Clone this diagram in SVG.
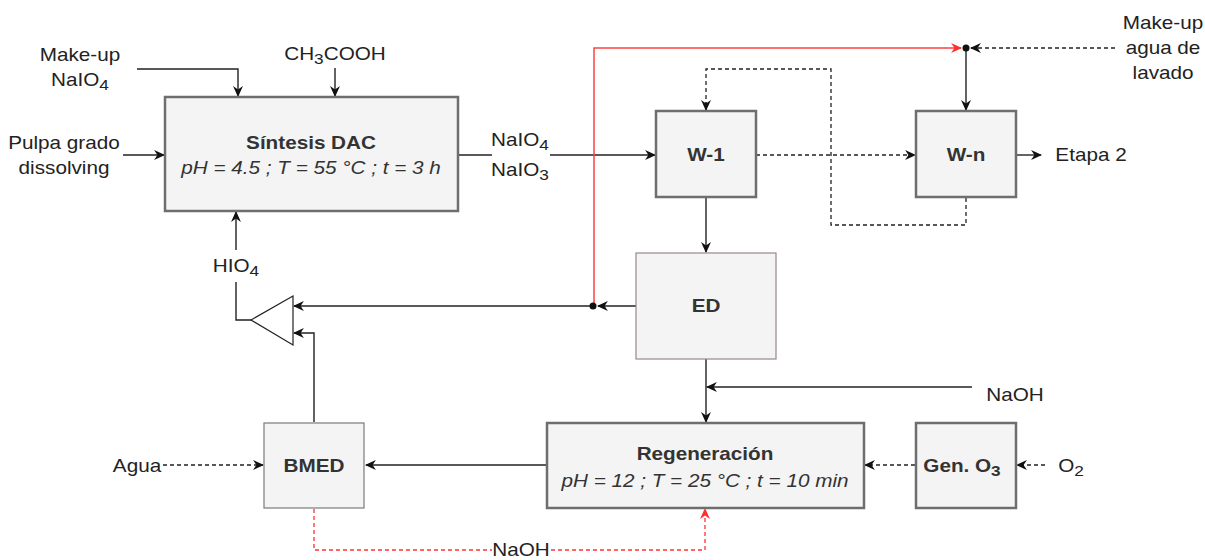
<svg xmlns="http://www.w3.org/2000/svg" width="1205" height="560" viewBox="0 0 1205 560">
<style>
text{font-family:"Liberation Sans",Arial,sans-serif;font-size:18px;fill:#222;text-anchor:middle}
.b{font-weight:bold;fill:#333}
.i{font-style:italic;fill:#333}
.s{font-size:15px}
.box{fill:#f4f4f4;stroke:#6e6e6e;stroke-width:2.5}
.thin{fill:#f4f4f4;stroke:#7a7a7a;stroke-width:1.2}
.c{fill:none;stroke:#222;stroke-width:1.4}
.d{fill:none;stroke:#222;stroke-width:1.3;stroke-dasharray:4 3}
.r{fill:none;stroke:#ff4040;stroke-width:1.5}
.rd{fill:none;stroke:#ff3030;stroke-width:1.3;stroke-dasharray:4 3}
</style>
<defs>
<marker id="a" viewBox="0 0 10 10" refX="9" refY="5" markerWidth="11" markerHeight="11" markerUnits="userSpaceOnUse" orient="auto">
<path d="M0,0.5 L10,5 L0,9.5 L3,5 z" fill="#111"/>
</marker>
<marker id="ar" viewBox="0 0 10 10" refX="9" refY="5" markerWidth="11" markerHeight="11" markerUnits="userSpaceOnUse" orient="auto">
<path d="M0,0.5 L10,5 L0,9.5 L3,5 z" fill="#ff3030"/>
</marker>
</defs>
<rect width="1205" height="560" fill="#fff"/>

<g id="connectors">
<path class="c" d="M137,69 H238 V96" marker-end="url(#a)"/>
<path class="c" d="M335,68 V96" marker-end="url(#a)"/>
<path class="c" d="M123,155 H164" marker-end="url(#a)"/>
<path class="c" d="M458,155 H492"/>
<path class="c" d="M550,155 H655" marker-end="url(#a)"/>
<path class="r" d="M594,306 V48 H961" marker-end="url(#ar)"/>
<path class="d" d="M1115,48 H971" marker-end="url(#a)"/>
<path class="c" d="M966,48 V110" marker-end="url(#a)"/>
<path class="d" d="M756,155 H915" marker-end="url(#a)"/>
<path class="c" d="M1016,155 H1041" marker-end="url(#a)"/>
<path class="d" d="M966,198 V225 H831 V69 H706 V110"/>
<path class="c" d="M706,102 V110" marker-end="url(#a)"/>
<path class="c" d="M706,198 V252" marker-end="url(#a)"/>
<path class="c" d="M636,306 H598" marker-end="url(#a)"/>
<path class="c" d="M594,306 H294" marker-end="url(#a)"/>
<path class="c" d="M251,320 H236 V282"/>
<path class="c" d="M236,250 V212" marker-end="url(#a)"/>
<path class="c" d="M314,422 V333 H294" marker-end="url(#a)"/>
<path class="c" d="M706,359 V422" marker-end="url(#a)"/>
<path class="c" d="M972,387 H707" marker-end="url(#a)"/>
<path class="d" d="M915,465 H865" marker-end="url(#a)"/>
<path class="d" d="M1045,465 H1017" marker-end="url(#a)"/>
<path class="c" d="M547,465 H366" marker-end="url(#a)"/>
<path class="d" d="M163,465 H263" marker-end="url(#a)"/>
<path class="rd" d="M314,509 V550 H492"/>
<path class="rd" d="M551,550 H705 V509" marker-end="url(#ar)"/>
<circle cx="966" cy="48" r="3.5" fill="#111"/>
<circle cx="593" cy="306" r="3.5" fill="#111"/>
<text transform="translate(236,272) scale(1.15,1)">HIO<tspan class="s" dy="4">4</tspan></text>
<text transform="translate(520,146) scale(1.15,1)">NaIO<tspan class="s" dy="4">4</tspan></text>
<text transform="translate(520,176) scale(1.15,1)">NaIO<tspan class="s" dy="4">3</tspan></text>
<text transform="translate(1015,401) scale(1.15,1)">NaOH</text>
<text transform="translate(521,556) scale(1.15,1)">NaOH</text>
</g>

<g id="inputs">
<text transform="translate(80,61) scale(1.15,1)">Make-up</text>
<text transform="translate(80,86) scale(1.15,1)">NaIO<tspan class="s" dy="4">4</tspan></text>
<text transform="translate(335,60) scale(1.15,1)">CH<tspan class="s" dy="4">3</tspan><tspan dy="-4">COOH</tspan></text>
<text transform="translate(64,149) scale(1.15,1)">Pulpa grado</text>
<text transform="translate(64,174) scale(1.15,1)">dissolving</text>
<text transform="translate(1163,29) scale(1.15,1)">Make-up</text>
<text transform="translate(1163,54) scale(1.15,1)">agua de</text>
<text transform="translate(1163,79) scale(1.15,1)">lavado</text>
<text transform="translate(1091,161) scale(1.15,1)">Etapa 2</text>
<text transform="translate(137,472) scale(1.15,1)">Agua</text>
<text transform="translate(1071,472) scale(1.15,1)">O<tspan class="s" dy="4">2</tspan></text>
</g>

<g id="sintesis">
<rect class="box" x="165" y="97" width="293" height="114"/>
<text class="b" transform="translate(311,149) scale(1.15,1)">Síntesis DAC</text>
<text class="i" transform="translate(311,174) scale(1.15,1)">pH = 4.5 ; T = 55 °C ; t = 3 h</text>
</g>

<g id="w1">
<rect class="box" x="656" y="111" width="100" height="86"/>
<text class="b" transform="translate(706,161) scale(1.15,1)">W-1</text>
</g>

<g id="wn">
<rect class="box" x="916" y="111" width="100" height="86"/>
<text class="b" transform="translate(966,161) scale(1.15,1)">W-n</text>
</g>

<g id="ed">
<rect class="thin" x="636" y="253" width="140" height="106" style="stroke:#9a8888"/>
<text class="b" transform="translate(706,312) scale(1.15,1)">ED</text>
</g>

<g id="mixer">
<polygon points="293,296 293,345 251,320" fill="#fff" stroke="#222" stroke-width="1.2"/>
</g>

<g id="bmed">
<rect class="thin" x="264" y="423" width="100" height="85"/>
<text class="b" transform="translate(314,472) scale(1.15,1)">BMED</text>
</g>

<g id="regeneracion">
<rect class="box" x="547" y="423" width="317" height="85"/>
<text class="b" transform="translate(705,460) scale(1.15,1)">Regeneración</text>
<text class="i" transform="translate(705,487) scale(1.15,1)">pH = 12 ; T = 25 °C ; t = 10 min</text>
</g>

<g id="geno3">
<rect class="box" x="916" y="423" width="100" height="85"/>
<text class="b" transform="translate(962,472) scale(1.15,1)">Gen. O<tspan class="s" dy="4">3</tspan></text>
</g>
</svg>
